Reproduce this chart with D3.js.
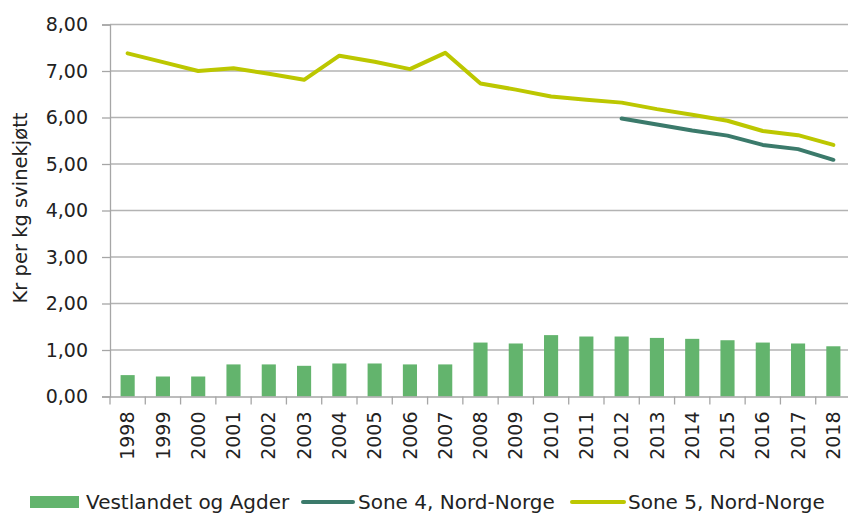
<!DOCTYPE html>
<html><head><meta charset="utf-8">
<script src="https://cdn.jsdelivr.net/npm/d3@7"></script>
<style>body{margin:0;background:#fff}svg{display:block}text{font-family:"DejaVu Sans",sans-serif;fill:#222}</style>
</head><body><svg id="c" width="848" height="514"></svg>
<script>
const years = ["1998","1999","2000","2001","2002","2003","2004","2005","2006","2007","2008","2009","2010","2011","2012","2013","2014","2015","2016","2017","2018"];
const vestlandet = [0.46,0.43,0.43,0.69,0.69,0.66,0.71,0.71,0.69,0.69,1.16,1.14,1.32,1.29,1.29,1.26,1.24,1.21,1.16,1.14,1.08];
const sone4 = [null,null,null,null,null,null,null,null,null,null,null,null,null,null,5.98,5.85,5.72,5.61,5.41,5.32,5.09];
const sone5 = [7.38,7.19,7.00,7.06,6.94,6.81,7.33,7.20,7.04,7.39,6.73,6.60,6.45,6.38,6.32,6.18,6.06,5.93,5.71,5.62,5.41];
const yTicks = [0,1,2,3,4,5,6,7,8];
const seriesNames = ["Vestlandet og Agder","Sone 4, Nord-Norge","Sone 5, Nord-Norge"];
const colors = {bar:"#63b46d", s4:"#3b7a6b", s5:"#bcc700"};
const FONT = '"DejaVu Sans",sans-serif';

const svg = d3.select("#c");
const L = 110, R = 851, T = 24.5, B = 396.5;
const x = d3.scaleBand().domain(years).range([L,R]).paddingInner(0.6).paddingOuter(0.3);
const xb = d3.scaleBand().domain(years).range([L,R]);
const y = d3.scaleLinear().domain([0,8]).range([B,T]);
const fmt = v => d3.format(".2f")(v).replace(".",",");

// gridlines
svg.append("g").selectAll("line").data(yTicks.filter(d=>d>0)).join("line")
  .attr("x1",L).attr("x2",848).attr("y1",d=>y(d)).attr("y2",d=>y(d))
  .attr("stroke","#b3b3b3").attr("stroke-width",1.3);

// y axis
const ya = svg.append("g").attr("transform",`translate(${L},0)`)
  .call(d3.axisLeft(y).tickValues(yTicks).tickFormat(fmt).tickSize(8).tickPadding(14));
ya.select(".domain").attr("stroke","#a6a6a6").attr("stroke-width",1.3);
ya.selectAll(".tick line").attr("stroke","#a6a6a6").attr("stroke-width",1.3);
ya.selectAll("text").attr("font-size",19).style("font-family",FONT).attr("fill","#222");

// bars
svg.append("g").selectAll("rect").data(years).join("rect")
  .attr("x",d=>x(d)).attr("width",x.bandwidth())
  .attr("y",(d,i)=>y(vestlandet[i])).attr("height",(d,i)=>B-y(vestlandet[i]))
  .attr("fill",colors.bar);

// x axis
const xa = svg.append("g").attr("transform",`translate(0,${B})`)
  .call(d3.axisBottom(xb).tickSize(0).tickSizeOuter(0));
xa.select(".domain").attr("stroke","#a6a6a6").attr("stroke-width",1.3);
xa.selectAll(".tick line").remove();
svg.append("g").selectAll("line").data(d3.range(years.length+1)).join("line")
  .attr("x1",i=>L+i*xb.step()).attr("x2",i=>L+i*xb.step())
  .attr("y1",B).attr("y2",B+8).attr("stroke","#a6a6a6").attr("stroke-width",1.3);
xa.selectAll("text").attr("font-size",19).style("font-family",FONT).attr("fill","#222")
  .attr("transform","rotate(-90)").attr("text-anchor","end").attr("dy","0.35em").attr("x",-15).attr("y",0);

// lines
const cx = d => xb(d)+xb.bandwidth()/2;
const line = d3.line().defined(d=>d.v!=null).x(d=>cx(d.k)).y(d=>y(d.v));
svg.append("path").datum(years.map((k,i)=>({k,v:sone5[i]})))
  .attr("d",line).attr("fill","none").attr("stroke",colors.s5).attr("stroke-width",4).attr("stroke-linejoin","round").attr("stroke-linecap","round");
svg.append("path").datum(years.map((k,i)=>({k,v:sone4[i]})))
  .attr("d",line).attr("fill","none").attr("stroke",colors.s4).attr("stroke-width",4).attr("stroke-linejoin","round").attr("stroke-linecap","round");

// y label
svg.append("text").attr("transform","translate(20,208) rotate(-90)").attr("text-anchor","middle")
  .attr("dy","0.35em").attr("font-size",19.5).text("Kr per kg svinekjøtt");

// legend
const lg = svg.append("g");
const ly = 502;
lg.append("rect").attr("x",30).attr("y",ly-6).attr("width",49).attr("height",12).attr("fill",colors.bar);
lg.append("text").attr("x",86).attr("y",ly).attr("dy","0.35em").attr("font-size",20).text(seriesNames[0]);
lg.append("line").attr("x1",303).attr("x2",353).attr("y1",ly).attr("y2",ly).attr("stroke",colors.s4).attr("stroke-width",4).attr("stroke-linecap","round");
lg.append("text").attr("x",358).attr("y",ly).attr("dy","0.35em").attr("font-size",20).text(seriesNames[1]);
lg.append("line").attr("x1",572).attr("x2",624).attr("y1",ly).attr("y2",ly).attr("stroke",colors.s5).attr("stroke-width",4).attr("stroke-linecap","round");
lg.append("text").attr("x",628).attr("y",ly).attr("dy","0.35em").attr("font-size",20).text(seriesNames[2]);
</script></body></html>
